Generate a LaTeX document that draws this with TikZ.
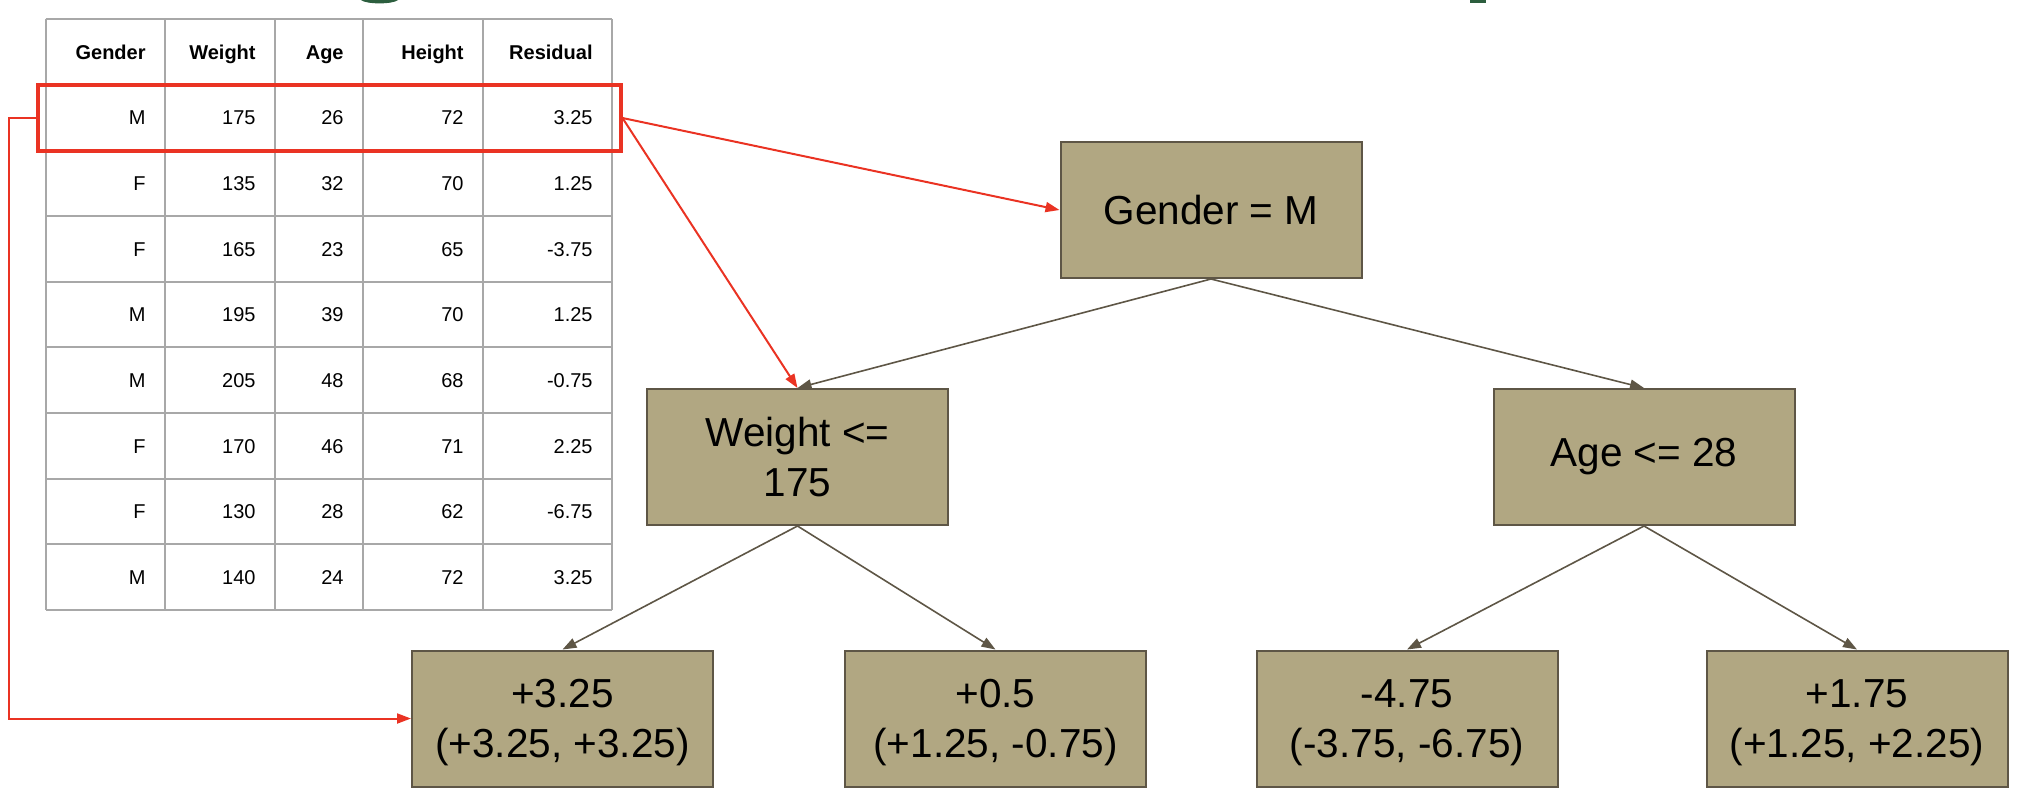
\documentclass[tikz,border=0pt]{standalone}
\usepackage{fontspec}
\setmainfont{Liberation Sans}
\usepackage{xcolor}
\usepackage{tikz}
\usetikzlibrary{arrows.meta, positioning, calc}
\definecolor{splittan}{RGB}{177, 167, 130}
\definecolor{splitedge}{RGB}{94, 86, 70}
\definecolor{residred}{RGB}{234, 51, 35}
\definecolor{gridgray}{RGB}{168, 168, 168}
\definecolor{titlegreen}{RGB}{44, 94, 62}

\tikzset{
    splitbox/.style={draw=splitedge, line width=1pt, fill=splittan, minimum width=150.5pt,
        minimum height=68pt, align=center, inner sep=0pt,
        font=\fontsize{20.25}{25}\selectfont},
    leafbox/.style={splitbox, text depth=-3pt},
    branch/.style={draw=splitedge, line width=0.8pt, -{Triangle[length=7pt, width=5pt]}},
    pick/.style={draw=residred, line width=1pt, -{Triangle[length=7pt, width=5pt]}},
    gridline/.style={draw=gridgray, line width=1pt},
    headcell/.style={anchor=base east, inner sep=0pt, font=\fontsize{10}{12}\selectfont\bfseries},
    datacell/.style={anchor=base east, inner sep=0pt, font=\fontsize{10}{12}\selectfont},
}

\begin{document}
\begin{tikzpicture}[x=0.5pt, y=-0.5pt]
    \useasboundingbox (0,0) rectangle (2022,798);

    % Bits of the title cut off at the top
    \fill[titlegreen] (361,0) .. controls (366,4.5) and (393,4.5) .. (398,0) -- cycle;
    \fill[titlegreen] (1470,0) rectangle (1486,3);

    % Residual table
    \foreach \x in {45.5,165,275,363,483,612}
        \draw[gridline] (\x,19) -- (\x,610);
    \foreach \i in {0,...,9}
        \draw[gridline] (45.5,19+65.67*\i) -- (612,19+65.67*\i);

    \foreach \txt/\xr [count=\c] in {Gender/165, Weight/275, Age/363, Height/483, Residual/612}
        \node[headcell] (head\c) at (\xr-19,59) {\txt};

    \foreach \g/\w/\a/\h/\r [count=\i] in {M/175/26/72/3.25, F/135/32/70/1.25,
            F/165/23/65/-3.75, M/195/39/70/1.25, M/205/48/68/-0.75, F/170/46/71/2.25,
            F/130/28/62/-6.75, M/140/24/72/3.25} {
        \pgfmathsetmacro\yb{59+65.67*\i}
        \node[datacell] (gen\i) at (146,\yb) {\g};
        \node[datacell] (wt\i)  at (256,\yb) {\w};
        \node[datacell] (age\i) at (344,\yb) {\a};
        \node[datacell] (ht\i)  at (464,\yb) {\h};
        \node[datacell] (res\i) at (593,\yb) {\r};
    }

    % Highlighted first row
    \node[draw=residred, line width=2pt, minimum width=291.25pt, minimum height=33pt,
        inner sep=0pt] (rowbox) at (329.25,118) {};

    % Tree
    \node[splitbox] (gender) at (1211,210) {Gender = M};
    \node[splitbox] (weight) at (797.5,457) {Weight <=\\175};
    \node[splitbox] (agesplit) at (1644,457) {Age <= 28};

    \node[leafbox] (leafa) at (562.5,718.5) {+3.25\\(+3.25, +3.25)};
    \node[leafbox] (leafb) at (995.5,718.5) {+0.5\\(+1.25, -0.75)};
    \node[leafbox] (leafc) at (1407,718.5) {-4.75\\(-3.75, -6.75)};
    \node[leafbox] (leafd) at (1857,718.5) {+1.75\\(+1.25, +2.25)};

    \draw[branch] (gender.south) -- (weight.north);
    \draw[branch] (gender.south) -- (agesplit.north);
    \draw[branch] (weight.south) -- (leafa.north);
    \draw[branch] (weight.south) -- (leafb.north);
    \draw[branch] (agesplit.south) -- (leafc.north);
    \draw[branch] (agesplit.south) -- (leafd.north);

    % Row sent through the tree
    \draw[pick] (rowbox.east) -- (gender.west);
    \draw[pick] (rowbox.east) -- (weight.north);
    \draw[pick] (rowbox.west) -- ++(-27,0) |- (leafa.west);
\end{tikzpicture}
\end{document}
